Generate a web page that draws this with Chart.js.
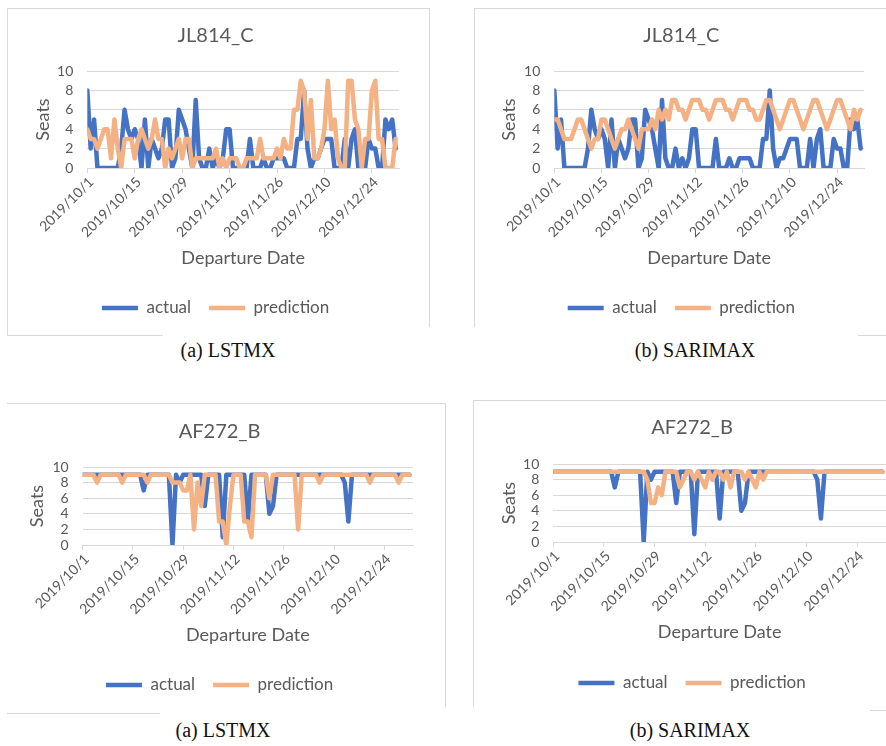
<!DOCTYPE html>
<html>
<head>
<meta charset="utf-8">
<script src="https://cdn.jsdelivr.net/npm/chart.js@4.4.0/dist/chart.umd.min.js"></script>
<style>
  body { margin: 0; background: #fff; width: 886px; height: 746px; position: relative; overflow: hidden; }
  canvas { position: absolute; }
  .ln { position: absolute; background: #d9d9d9; }
  .cap { position: absolute; font-family: 'Liberation Serif', serif; font-size: 20px; line-height: 20px; color: #111; transform: translateX(-50%); white-space: nowrap; }
</style>
</head>
<body>
<!-- panel frames -->
<div class="ln" style="left:7px;top:8px;width:423px;height:1px"></div>
<div class="ln" style="left:7px;top:8px;width:1px;height:327px"></div>
<div class="ln" style="left:429px;top:8px;width:1px;height:319px"></div>
<div class="ln" style="left:7px;top:335px;width:156px;height:1px"></div>

<div class="ln" style="left:474px;top:8px;width:412px;height:1px"></div>
<div class="ln" style="left:474px;top:8px;width:1px;height:319px"></div>
<div class="ln" style="left:858px;top:335px;width:28px;height:1px"></div>

<div class="ln" style="left:7px;top:403px;width:438px;height:1px"></div>
<div class="ln" style="left:445px;top:403px;width:1px;height:304px"></div>
<div class="ln" style="left:7px;top:713px;width:153px;height:1px"></div>

<div class="ln" style="left:473px;top:400px;width:413px;height:1px"></div>
<div class="ln" style="left:473px;top:400px;width:1px;height:307px"></div>
<div class="ln" style="left:870px;top:710px;width:16px;height:1px"></div>

<canvas id="c1" width="421" height="319" style="left:8px;top:8px"></canvas>
<canvas id="c2" width="412" height="319" style="left:474px;top:8px"></canvas>
<canvas id="c3" width="438" height="304" style="left:7px;top:403px"></canvas>
<canvas id="c4" width="413" height="307" style="left:473px;top:400px"></canvas>

<div class="cap" style="left:228px;top:340px">(a) LSTMX</div>
<div class="cap" style="left:695px;top:340px">(b) SARIMAX</div>
<div class="cap" style="left:223px;top:720px">(a) LSTMX</div>
<div class="cap" style="left:690px;top:720px">(b) SARIMAX</div>

<script>
// tick labels every 14 days, starting 2019/10/1
const tickLabels = ['2019/10/1', '2019/10/15', '2019/10/29', '2019/11/12', '2019/11/26', '2019/12/10', '2019/12/24'];

// JL814_C, seats per departure date (10/1 .. 12/31)
const jlActual = [8,2,5,0,0,0,0,0,0,0,
  2,6,4,3,4,3,0,5,0,3,
  2,1,2,5,5,0,1,6,5,4,
  2,0,7,1,0,0,2,0,1,0,
  1,4,4,0,0,0,0,0,3,0,
  0,0,1,0,0,1,1,1,1,0,
  0,0,3,3,8,2,0,1,1,2,
  3,3,3,0,0,0,3,0,3,4,
  0,0,0,3,2,2,0,0,5,4,
  5,2];
const jlLstmx = [4,3,3,2,3,4,4,1,5,2,
  0,3,3,3,1,3,4,3,2,3,
  5,3,3,0,2,1,2,3,1,3,
  3,0,1,1,1,1,1,1,2,0,
  1,0,1,1,1,0,0,1,1,1,
  1,3,1,1,1,1,2,1,3,2,
  2,6,6,9,8,3,7,1,1,2,
  4,9,4,5,1,0,0,9,9,5,
  4,0,3,3,8,9,3,3,0,0,
  0,3];
const jlSarimax = [5,5,4,3,3,3,4,5,5,4,
  3,2,3,3,5,5,4,3,2,3,
  4,4,5,4,3,2,4,4,4,5,
  4,6,5,6,5,7,7,6,6,5,
  6,7,7,7,6,6,5,6,7,7,
  7,6,6,5,6,7,7,7,6,6,
  5,5,6,7,7,6,5,4,5,6,
  7,7,6,5,4,5,6,7,7,6,
  5,4,5,6,7,7,6,5,4,6,
  5,6];

// AF272_B
const afActual = [9,9,9,9,9,9,9,9,9,9,
  9,9,9,9,9,9,9,7,9,9,
  9,9,9,9,9,0,9,8,9,9,
  9,9,9,9,5,9,9,9,9,1,
  9,9,9,9,9,9,3,9,9,9,
  9,9,4,5,9,9,9,9,9,9,
  9,9,9,9,9,9,9,9,9,9,
  9,9,9,8,3,9,9,9,9,9,
  9,9,9,9,9,9,9,9,9,9,
  9,9];
const afLstmx = [9,9,9,9,8,9,9,9,9,9,
  9,8,9,9,9,9,9,9,8,9,
  9,9,9,9,9,8,8,8,7,7,
  9,2,8,5,9,9,9,9,3,3,
  0,5,9,9,9,3,3,1,9,9,
  9,9,6,9,9,9,9,9,9,9,
  2,9,9,9,9,9,8,9,9,9,
  9,9,9,9,9,9,9,9,9,9,
  8,9,9,9,9,9,9,9,8,9,
  9,9];
const afSarimax = [9,9,9,9,9,9,9,9,9,9,
  9,9,9,9,9,9,9,9,9,9,
  9,9,9,9,9,9,8,5,5,7,
  6,9,9,9,9,7,8,9,9,8,
  9,8,7,9,8,9,9,8,9,7,
  9,9,9,8,9,8,7,9,8,9,
  9,9,9,9,9,9,9,9,9,9,
  9,9,9,9,9,9,9,9,9,9,
  9,9,9,9,9,9,9,9,9,9,
  9,9];

const BLUE = '#4472C4';
const ORANGE = '#F4B183';
const TEXT = '#595959';
const GRID = '#d9d9d9';
const FONT = 'Lato';

function toPoints(values) {
  return values.map((v, i) => ({ x: i, y: v }));
}

function makeChart(id, title, actual, pred, g) {
  const ctx = document.getElementById(id).getContext('2d');
  return new Chart(ctx, {
    type: 'line',
    data: {
      datasets: [
        { label: 'actual', data: toPoints(actual), borderColor: BLUE, backgroundColor: BLUE,
          borderWidth: 4.5, pointRadius: 0, borderJoinStyle: 'round', borderCapStyle: 'round', order: 1 },
        { label: 'prediction', data: toPoints(pred), borderColor: ORANGE, backgroundColor: ORANGE,
          borderWidth: 4.5, pointRadius: 0, borderJoinStyle: 'round', borderCapStyle: 'round', order: 0 }
      ]
    },
    options: {
      responsive: false,
      animation: false,
      layout: { padding: { left: g.padL, right: g.padR, top: 0, bottom: g.padB } },
      plugins: {
        title: {
          display: true, text: title, color: TEXT,
          font: { family: FONT, size: 20, weight: 'normal' },
          padding: { top: g.titleTop, bottom: g.titleBottom }
        },
        legend: {
          position: 'bottom',
          labels: {
            usePointStyle: true, pointStyle: 'line', pointStyleWidth: 36,
            padding: 18, color: TEXT, font: { family: FONT, size: 17 },
            sort: (a, b) => a.datasetIndex - b.datasetIndex
          }
        },
        tooltip: { enabled: false }
      },
      scales: {
        x: {
          type: 'linear', min: 0, max: 92,
          afterFit: (s) => { s.height = g.xHeight; },
          grid: { drawOnChartArea: false, color: GRID, tickLength: 5 },
          border: { color: GRID },
          ticks: {
            stepSize: 14, includeBounds: false, autoSkip: false,
            minRotation: 45, maxRotation: 45, padding: 1, labelOffset: 4,
            color: TEXT, font: { family: FONT, size: 14 },
            callback: (v) => tickLabels[v / 14]
          },
          title: {
            display: true, text: 'Departure Date', color: TEXT,
            font: { family: FONT, size: 18 }, padding: { top: 0, bottom: g.xTitleBottom }
          }
        },
        y: {
          min: 0, max: 10,
          afterFit: (s) => { s.width = g.yWidth; },
          grid: { color: GRID, drawTicks: false },
          border: { display: false },
          ticks: { stepSize: 2, autoSkip: false, padding: 14, color: TEXT, font: { family: FONT, size: 14 } },
          title: {
            display: true, text: 'Seats', color: TEXT,
            font: { family: FONT, size: 18 }, padding: 0
          }
        }
      }
    }
  });
}

makeChart('c1', 'JL814_C', jlActual, jlLstmx,
  { padL: 24.2, padR: 30, padB: 0.5, titleTop: 16, titleBottom: 23, yWidth: 55.1, xHeight: 113.5, xTitleBottom: 12.7 });
makeChart('c2', 'JL814_C', jlActual, jlSarimax,
  { padL: 24.7, padR: 22, padB: 0.5, titleTop: 16, titleBottom: 23, yWidth: 55.6, xHeight: 113.5, xTitleBottom: 12.7 });
makeChart('c3', 'AF272_B', afActual, afLstmx,
  { padL: 19.2, padR: 32, padB: 3.5, titleTop: 17, titleBottom: 23, yWidth: 56.5, xHeight: 113.5, xTitleBottom: 12.7 });
makeChart('c4', 'AF272_B', afActual, afSarimax,
  { padL: 25.2, padR: 0, padB: 5.5, titleTop: 16, titleBottom: 24, yWidth: 55.1, xHeight: 114.5, xTitleBottom: 13.7 });
</script>
</body>
</html>
